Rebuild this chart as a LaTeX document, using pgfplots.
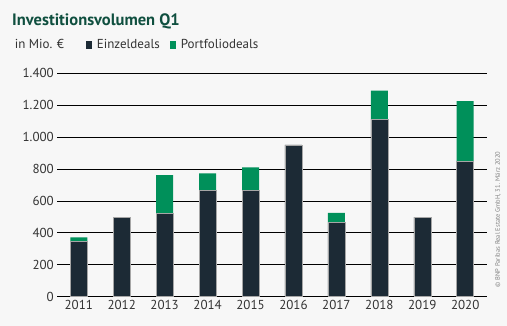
\documentclass[border=0pt]{standalone}
\usepackage{fontspec}
\setmainfont{PT Sans}
\usepackage{pgfplots}
\pgfplotsset{compat=1.18}
\definecolor{navy}{HTML}{1C2A35}
\definecolor{bnpgreen}{HTML}{00905A}
\definecolor{titlegreen}{HTML}{0F4F3F}
\definecolor{bg}{HTML}{F7F7F7}
\definecolor{txt}{HTML}{333333}
\begin{document}
\begin{tikzpicture}[x=1pt,y=1pt]
\fill[bg] (0,0) rectangle (507,326);
\begin{axis}[
  at={(57.3pt,29.3pt)}, anchor=south west, scale only axis,
  width=429.4pt, height=223.4pt,
  ybar stacked, bar width=17pt,
  xmin=-0.5, xmax=9.5, ymin=0, ymax=1400,
  ytick={0,200,...,1400},
  xtick={0,...,9},
  xticklabels={2011,2012,2013,2014,2015,2016,2017,2018,2019,2020},
  axis x line*=bottom, axis y line*=left,
  y axis line style={draw=none},
  x axis line style={line width=1.6pt, -},
  major tick length=0pt,
  ymajorgrids, grid style={black, line width=0.8pt},
  tick label style={font=\fontsize{13}{13}\selectfont, text=txt},
  /pgf/number format/.cd, 1000 sep={.}, assume math mode=true,
]
\addplot[fill=navy, draw=gray!70, line width=0.5pt] coordinates {
(0,349) (1,497) (2,524) (3,664) (4,668) (5,952) (6,464) (7,1111) (8,499) (9,846)};
\addplot[fill=bnpgreen, draw=none] coordinates {
(0,23) (1,0) (2,238) (3,109) (4,143) (5,0) (6,62) (7,180) (8,0) (9,380)};
\end{axis}
\node[anchor=base west, font=\fontsize{16.5}{17}\selectfont\bfseries, text=titlegreen, inner sep=0] at (12,300) {Investitionsvolumen Q1};
\node[anchor=base west, font=\fontsize{13}{13}\selectfont, text=txt, inner sep=0] at (14.7,277) {in Mio. €};
\fill[navy] (85.7,277.3) rectangle (92,284.7);
\node[anchor=base west, font=\fontsize{13}{13}\selectfont, text=txt, inner sep=0] at (96.7,277) {Einzeldeals};
\fill[bnpgreen] (170,277.3) rectangle (176,284.7);
\node[anchor=base west, font=\fontsize{13}{13}\selectfont, text=txt, inner sep=0] at (180.7,277) {Portfoliodeals};
\node[rotate=90, font=\fontsize{6.5}{7}\selectfont, text=gray, inner sep=0] at (498,106.5) {© BNP Paribas Real Estate GmbH, 31. März 2020};
\end{tikzpicture}
\end{document}
